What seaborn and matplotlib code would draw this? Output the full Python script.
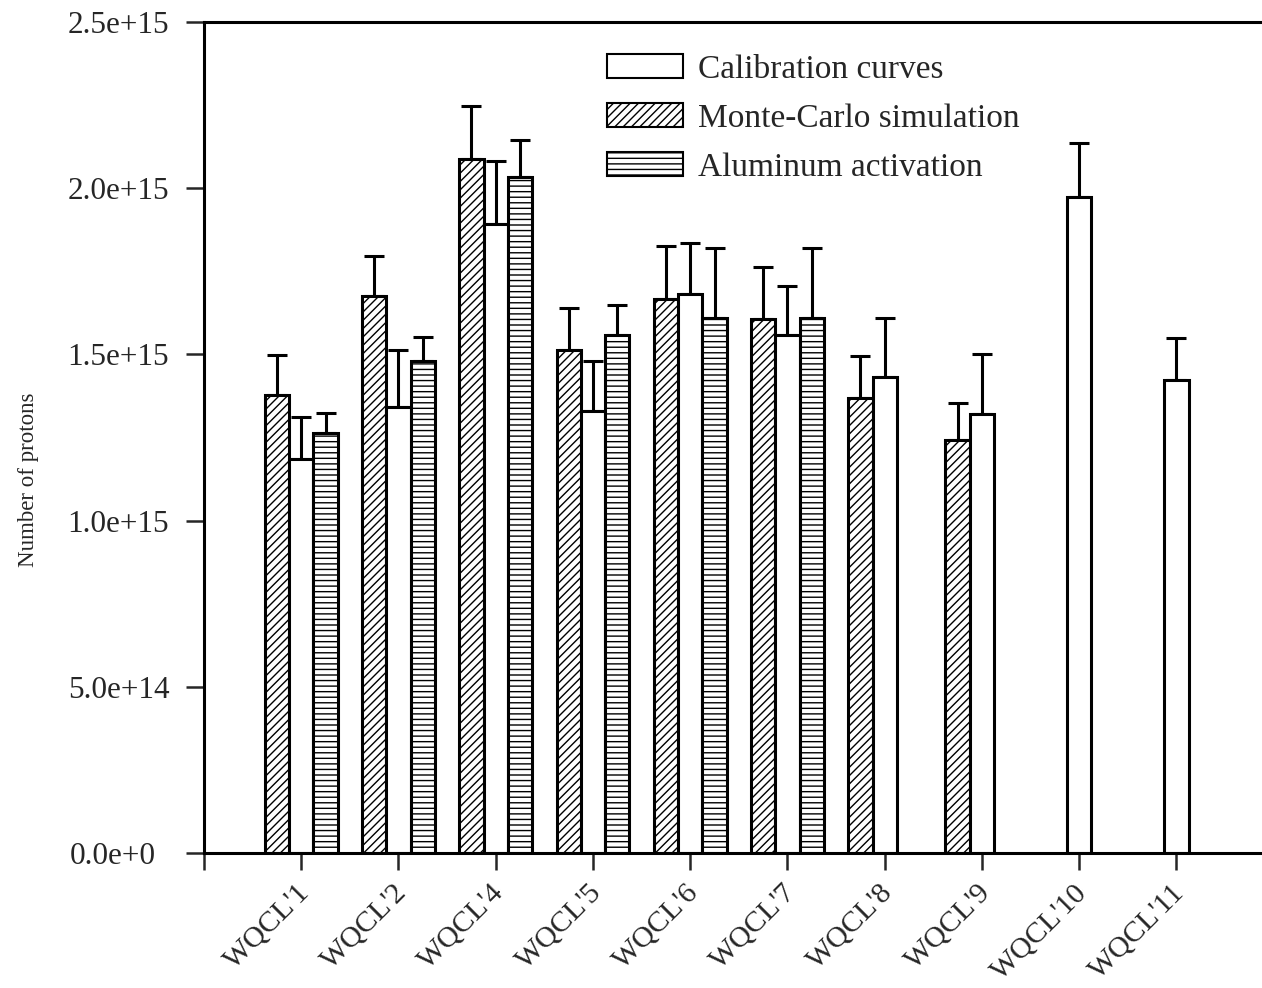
import matplotlib
matplotlib.use("Agg")
import matplotlib.pyplot as plt
import matplotlib.patches as mpatches
import matplotlib.transforms as mtransforms
from matplotlib.ticker import FuncFormatter
import numpy as np
import pandas as pd
import seaborn as sns

sns.set_theme(style="ticks")
plt.rcParams["font.family"] = ["Liberation Serif", "DejaVu Serif"]
plt.rcParams["hatch.linewidth"] = 1.0
plt.rcParams["hatch.color"] = "black"

# data (values in protons)
samples = ["WQCL'1", "WQCL'2", "WQCL'4", "WQCL'5", "WQCL'6",
           "WQCL'7", "WQCL'8", "WQCL'9", "WQCL'10", "WQCL'11"]

monte_carlo = [1.378, 1.676, 2.088, 1.513, 1.667, 1.607, 1.369, 1.242, np.nan, np.nan]
monte_carlo_err = [0.120, 0.120, 0.159, 0.127, 0.159, 0.156, 0.126, 0.112, np.nan, np.nan]

calibration = [1.185, 1.342, 1.892, 1.330, 1.682, 1.558, 1.432, 1.321, 1.974, 1.423]
calibration_err = [0.127, 0.171, 0.190, 0.150, 0.153, 0.148, 0.177, 0.180, 0.162, 0.126]

aluminum = [1.264, 1.480, 2.034, 1.558, 1.610, 1.610, np.nan, np.nan, np.nan, np.nan]
aluminum_err = [0.060, 0.072, 0.111, 0.091, 0.210, 0.210, np.nan, np.nan, np.nan, np.nan]

methods = ["Monte-Carlo simulation", "Calibration curves", "Aluminum activation"]
hatches = ["////", "", "---"]
scale = 1e15

rows = []
for m, vals, errs in zip(methods,
                         [monte_carlo, calibration, aluminum],
                         [monte_carlo_err, calibration_err, aluminum_err]):
    for s, v, e in zip(samples, vals, errs):
        rows.append({"sample": s, "method": m, "protons": v * scale, "err": e * scale})
df = pd.DataFrame(rows).dropna()

fig = plt.figure(figsize=(12.62, 9.88), dpi=100)
ax = fig.add_axes([204 / 1262, 1 - 853 / 988, 1 - 204 / 1262, (853 - 22) / 988])

sns.barplot(
    data=df, x="sample", y="protons", hue="method",
    order=samples, hue_order=methods,
    palette={m: "white" for m in methods},
    edgecolor="black", linewidth=2.2, width=0.75, gap=0,
    errorbar=None, legend=False, ax=ax, zorder=2,
)

# hatches + one-sided error bars
for container, m, h in zip(ax.containers, methods, hatches):
    sub = df[df["method"] == m].set_index("sample")
    for bar in container:
        bar.set_hatch(h)
        xc = bar.get_x() + bar.get_width() / 2
        s = samples[int(round(xc))]
        ax.errorbar(xc, bar.get_height(), yerr=[[0], [sub.loc[s, "err"]]],
                    fmt="none", ecolor="black", elinewidth=2.2,
                    capsize=7.5, capthick=2.2, zorder=1)

ax.set_ylim(0, 2.5e15)
ax.set_yticks(np.arange(0, 2.51e15, 0.5e15))


def fmt(v, pos):
    if v == 0:
        return "0.0e+0"
    exp = int(np.floor(np.log10(v)))
    return f"{v / 10**exp:.1f}e+{exp}"


ax.yaxis.set_major_formatter(FuncFormatter(fmt))

ax.set_xlim(-1, 9.88)
ax.set_xticks(range(-1, len(samples)))
ax.set_xticklabels([""] + samples, rotation=45, ha="right",
                   rotation_mode="anchor")

ax.tick_params(axis="y", direction="out", length=13, width=1.8, labelsize=22.5, pad=12)
ax.tick_params(axis="x", direction="out", length=12, width=1.8, labelsize=21.5, pad=7)

# nudge the rotated labels a bit to the left, like the original
shift = mtransforms.ScaledTranslation(-5 / 100, 0, fig.dpi_scale_trans)
for lbl in ax.get_xticklabels():
    lbl.set_transform(lbl.get_transform() + shift)
zero_shift = mtransforms.ScaledTranslation(-14 / 100, 0, fig.dpi_scale_trans)
ylbls = ax.get_yticklabels()
ylbls[0].set_transform(ylbls[0].get_transform() + zero_shift)

for side in ["left", "top", "bottom"]:
    ax.spines[side].set_linewidth(2.2)
    ax.spines[side].set_color("black")
ax.spines["right"].set_visible(False)

ax.set_xlabel("")
ax.set_ylabel("Number of protons", fontsize=16.5)
ax.yaxis.set_label_coords(-0.156, 0.449)

# legend in the original order
leg_order = ["Calibration curves", "Monte-Carlo simulation", "Aluminum activation"]
handles = [mpatches.Patch(facecolor="white", edgecolor="black", linewidth=1.5,
                          hatch=hatches[methods.index(m)], label=m) for m in leg_order]
ax.legend(handles=handles, loc="upper left", bbox_to_anchor=(0.368, 0.977),
          frameon=False, fontsize=24, handlelength=2.3, handleheight=0.72,
          handletextpad=0.45, labelspacing=0.55, borderaxespad=0)

fig.savefig("out.png", dpi=100)
